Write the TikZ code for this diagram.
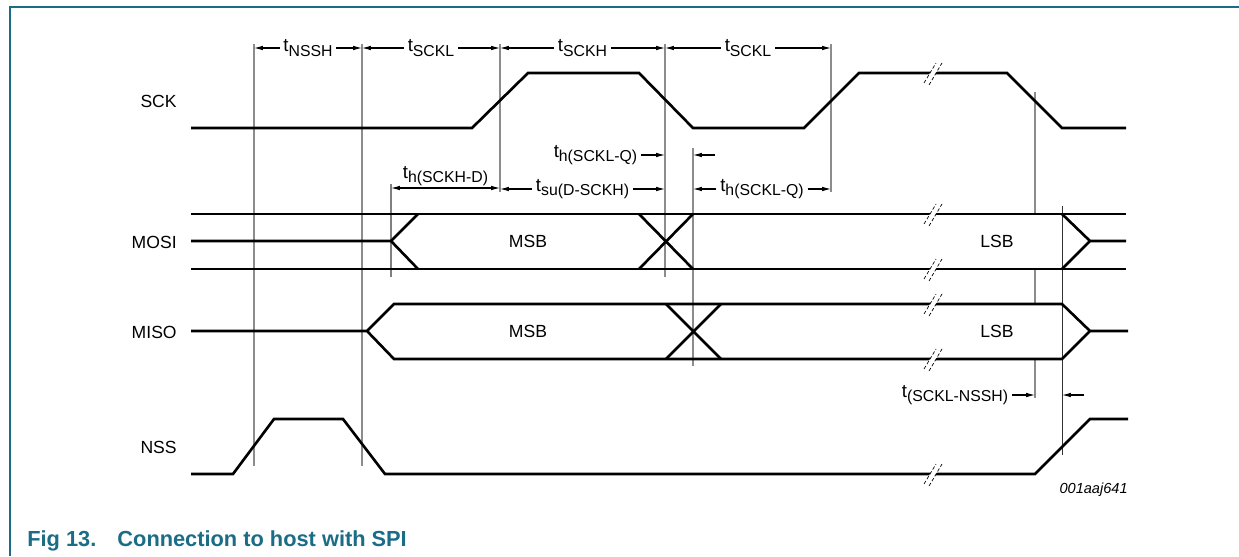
\documentclass[tikz,border=0pt]{standalone}
\usepackage{fontspec}
\setmainfont{Liberation Sans}
\usetikzlibrary{arrows.meta,calc}
\definecolor{nxteal}{HTML}{1B6C86}
\definecolor{gridgray}{HTML}{8C8C8C}
\newcommand{\tsub}[2]{{\fontsize{10.6}{12}\selectfont #1}\raisebox{-0.45ex}{\fontsize{9}{10}\selectfont #2}}
\tikzset{
  sig/.style={line width=1.5pt,line join=miter},
  grid/.style={draw=gridgray,line width=0.7pt},
  gridk/.style={draw=black!80,line width=0.5pt},
  dim/.style={-{Latex[length=5pt,width=2.6pt]},line width=0.6pt},
  dimb/.style={{Latex[length=5pt,width=2.6pt]}-{Latex[length=5pt,width=2.6pt]},line width=0.6pt},
  tlbl/.style={font=\fontsize{10}{12}\selectfont,inner sep=2pt},
  sname/.style={font=\fontsize{10}{12}\selectfont,anchor=east,inner sep=0pt},
  brk/.pic={
    \fill[white] (-7,7) -- (-1,7) -- (7,-7) -- (1,-7) -- cycle;
    \draw[dash pattern=on 2pt off 1.2pt,line width=0.4pt] (-9,10) -- (3,-10) (-4,12) -- (9,-10);
  },
}

\begin{document}
\begin{tikzpicture}[x=0.2mm,y=-0.2mm]
  \useasboundingbox (0,0) rectangle (1239,556);
  % frame
  \draw[nxteal,line width=0.8pt] (10,556) -- (10,7) -- (1239,7);
  % timing references
  \coordinate (xnss1) at (254,44);
  \coordinate (xnss2) at (362,44);
  \coordinate (xmosi) at (391,184);
  \coordinate (xsck1) at (500,44);
  \coordinate (xsck2) at (665,44);
  \coordinate (xmiso) at (693,148);
  \coordinate (xsck3) at (831,44);
  \coordinate (xlast) at (1035,92);
  \coordinate (xnss3) at (1062,206);
  \draw[grid] (xnss1) -- ++(0,422);
  \draw[grid] (xnss2) -- ++(0,422);
  \draw[grid,draw=gray] (xmosi) -- ++(0,93);
  \draw[grid] (xsck1) -- ++(0,148);
  \draw[grid] (xsck2) -- ++(0,233);
  \draw[grid] (xmiso) -- ++(0,218);
  \draw[grid] (xsck3) -- ++(0,148);
  \draw[grid] (xlast) -- (1035,214) (1035,269) -- (1035,304) (1035,359) -- (1035,398);
  \draw[gridk] (xnss3) -- ++(0,249);

  % signal names
  \node[sname] (nsck) at (177,101) {SCK};
  \node[sname] (nmosi) at (177,242) {MOSI};
  \node[sname] (nmiso) at (177,332) {MISO};
  \node[sname] (nnss) at (177,447) {NSS};

  % SCK
  \draw[sig] (191,128) -- (472,128) -- (528,73) -- (639,73) -- (693,128) -- (804,128)
    -- (859,73) -- (1007,73) -- (1062,128) -- (1126,128);
  \pic at (933,73) {brk};

  % MOSI
  \draw[sig] (191,214) -- (1126,214);
  \draw[sig] (191,269) -- (1126,269);
  \draw[sig] (191,241) -- (391,241) -- (418,214) (391,241) -- (418,269);
  \draw[sig] (639,214) -- (693,269) (639,269) -- (693,214);
  \draw[sig] (1062,214) -- (1090,241) -- (1062,269) (1090,241) -- (1126,241);
  \pic at (933,214) {brk};
  \pic at (933,269) {brk};
  \node[tlbl] (msbo) at (528,241) {MSB};
  \node[tlbl] (lsbo) at (997,241) {LSB};

  % MISO
  \draw[sig] (191,331) -- (367,331) -- (394,304) -- (1062,304) -- (1090,331) -- (1062,359)
    -- (394,359) -- (367,331) (1090,331) -- (1128,331);
  \draw[sig] (666,304) -- (721,359) (666,359) -- (721,304);
  \pic at (933,304) {brk};
  \pic at (933,359) {brk};
  \node[tlbl] (msbi) at (528,331) {MSB};
  \node[tlbl] (lsbi) at (997,331) {LSB};

  % NSS
  \draw[sig] (191,474) -- (233,474) -- (274,419) -- (343,419) -- (385,474) -- (1035,474)
    -- (1090,419) -- (1128,419);
  \pic at (933,474) {brk};

  % top row timings
  \node[tlbl] (tnssh) at (308,48) {\tsub{t}{NSSH}};
  \draw[dim] (tnssh.west) -- (tnssh.west -| xnss1);
  \draw[dim] (tnssh.east) -- (tnssh.east -| xnss2);
  \node[tlbl] (tsckl1) at (431,48) {\tsub{t}{SCKL}};
  \draw[dim] (tsckl1.west) -- (tsckl1.west -| xnss2);
  \draw[dim] (tsckl1.east) -- (tsckl1.east -| xsck1);
  \node[tlbl] (tsckh) at (582.5,48) {\tsub{t}{SCKH}};
  \draw[dim] (tsckh.west) -- (tsckh.west -| xsck1);
  \draw[dim] (tsckh.east) -- (tsckh.east -| xsck2);
  \node[tlbl] (tsckl2) at (748,48) {\tsub{t}{SCKL}};
  \draw[dim] (tsckl2.west) -- (tsckl2.west -| xsck2);
  \draw[dim] (tsckl2.east) -- (tsckl2.east -| xsck3);

  % data timings
  \node[tlbl,anchor=east] (thq1) at (641,155) {\tsub{t}{h(SCKL-Q)}};
  \coordinate (thq1r) at (715,155);
  \draw[dim] (thq1.east) -- (thq1.east -| xsck2);
  \draw[dim] (thq1r) -- (thq1r -| xmiso);
  \coordinate (rowd) at (0,188);
  \draw[dimb] (xmosi |- rowd) -- node[tlbl,above,inner sep=1pt] (thd) {\tsub{t}{h(SCKH-D)}} (xsck1 |- rowd);
  \node[tlbl] (tsu) at (582.5,189) {\tsub{t}{su(D-SCKH)}};
  \draw[dim] (tsu.west) -- (tsu.west -| xsck1);
  \draw[dim] (tsu.east) -- (tsu.east -| xsck2);
  \node[tlbl] (thq2) at (762,189) {\tsub{t}{h(SCKL-Q)}};
  \draw[dim] (thq2.west) -- (thq2.west -| xmiso);
  \draw[dim] (thq2.east) -- (thq2.east -| xsck3);

  % NSS release
  \node[tlbl,anchor=east] (tsn) at (1012,395) {\tsub{t}{(SCKL-NSSH)}};
  \coordinate (tsnr) at (1084,395);
  \draw[dim] (tsn.east) -- (tsn.east -| xlast);
  \draw[dim] (tsnr) -- (tsnr -| xnss3);

  \node[anchor=east,inner sep=0pt,font=\fontsize{8.3}{10}\selectfont\itshape] (figid) at (1128,490) {001aaj641};
  \node[anchor=west,inner sep=0pt,text=nxteal,font=\fontsize{12.4}{14}\selectfont\bfseries] (cap) at (27,541) {Fig 13.\hspace{12pt}Connection to host with SPI};
\end{tikzpicture}
\end{document}
